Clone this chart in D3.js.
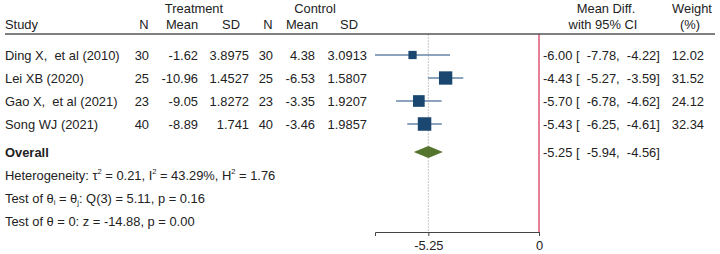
<!DOCTYPE html>
<html>
<head>
  <meta charset="utf-8">
  <script src="https://cdn.jsdelivr.net/npm/d3@7"></script>
  <style>
    body { margin: 0; background: #fff; }
    text { font-family: "Liberation Sans", Arial, sans-serif; font-size: 12.9px; fill: #222; white-space: pre; }
  </style>
</head>
<body>
  <svg width="720" height="254" id="mainsvg"></svg>
  <script>
    // data
    const studies = ['Ding X,  et al (2010)', 'Lei XB (2020)', 'Gao X,  et al (2021)', 'Song WJ (2021)'];
    const treatN = [30, 25, 23, 40];
    const treatMean = ['-1.62', '-10.96', '-9.05', '-8.89'];
    const treatSD = ['3.8975', '1.4527', '1.8272', '1.741'];
    const ctrlN = [30, 25, 23, 40];
    const ctrlMean = ['4.38', '-6.53', '-3.35', '-3.46'];
    const ctrlSD = ['3.0913', '1.5807', '1.9207', '1.9857'];
    const effect = [-6.00, -4.43, -5.70, -5.43];
    const ciLow = [-7.78, -5.27, -6.78, -6.25];
    const ciHigh = [-4.22, -3.59, -4.62, -4.61];
    const weight = [12.02, 31.52, 24.12, 32.34];
    const overall = { est: -5.25, lo: -5.94, hi: -4.56 };
    const statLines = [
      'Heterogeneity: τ<sup>2</sup> = 0.21, I<sup>2</sup> = 43.29%, H<sup>2</sup> = 1.76',
      'Test of θ<sub>i</sub> = θ<sub>j</sub>: Q(3) = 5.11, p = 0.16',
      'Test of θ = 0: z = -14.88, p = 0.00'
    ];
    const colHeads = ['N', 'Mean', 'SD', 'N', 'Mean', 'SD'];
    const xTicks = [-5.25, 0];

    const svg = d3.select('#mainsvg');
    const fmt = v => v.toFixed(2); // plain hyphen minus like the original
    const ciText = (e, lo, hi) => `${fmt(e)} [  ${fmt(lo)},  ${fmt(hi)}]`;

    // layout
    const plotLeft = 375, plotRight = 539;
    const headerY = 34, axisY = 232;
    const rowY0 = 55, rowStep = 23;
    const rowY = i => rowY0 + i * rowStep;
    const overallY = 152;
    const base = 4.6; // text baseline offset from row centre
    const colRight = [149, 198, 249, 273, 315, 367];   // value columns (right aligned)
    const colHeadX = [144, 182, 231, 268, 302, 349];   // header centres

    const xScale = d3.scaleLinear()
      .domain([d3.min(ciLow), 0])
      .range([plotLeft, plotRight]);
    const sizeScale = d3.scaleSqrt()
      .domain([0, d3.max(weight)])
      .range([0, 13.5]);

    // header
    svg.append('text').attr('x', 194).attr('y', 12.5).attr('text-anchor', 'middle').text('Treatment');
    svg.append('text').attr('x', 315).attr('y', 12.5).attr('text-anchor', 'middle').text('Control');
    svg.append('text').attr('x', 5).attr('y', 29).text('Study');
    colHeads.forEach((t, i) => {
      svg.append('text').attr('x', colHeadX[i]).attr('y', 29).attr('text-anchor', 'middle').text(t);
    });
    svg.append('text').attr('x', 606).attr('y', 12.5).attr('text-anchor', 'middle').text('Mean Diff.');
    svg.append('text').attr('x', 603).attr('y', 29).attr('text-anchor', 'middle').text('with 95% CI');
    svg.append('text').attr('x', 692).attr('y', 12.5).attr('text-anchor', 'middle').text('Weight');
    svg.append('text').attr('x', 690).attr('y', 29).attr('text-anchor', 'middle').text('(%)');

    // reference lines
    svg.append('line')
      .attr('x1', xScale(overall.est)).attr('x2', xScale(overall.est))
      .attr('y1', headerY).attr('y2', axisY)
      .attr('stroke', '#c8c8c8').attr('stroke-width', 1).attr('stroke-dasharray', '2,1');
    svg.append('line')
      .attr('x1', xScale(0)).attr('x2', xScale(0))
      .attr('y1', headerY).attr('y2', axisY)
      .attr('stroke', '#e0607e').attr('stroke-width', 1.6);

    svg.append('line')
      .attr('x1', 5).attr('x2', 715).attr('y1', headerY).attr('y2', headerY)
      .attr('stroke', '#555').attr('stroke-width', 1.5);

    // study rows
    const cols = [treatN, treatMean, treatSD, ctrlN, ctrlMean, ctrlSD];
    studies.forEach((s, i) => {
      const y = rowY(i);
      svg.append('text').attr('x', 5).attr('y', y + base).text(s);
      cols.forEach((c, j) => {
        svg.append('text').attr('x', colRight[j]).attr('y', y + base).attr('text-anchor', 'end').text(c[i]);
      });
      svg.append('line')
        .attr('x1', xScale(ciLow[i])).attr('x2', xScale(ciHigh[i]))
        .attr('y1', y).attr('y2', y)
        .attr('stroke', '#6585a6').attr('stroke-width', 1.3);
      const s2 = sizeScale(weight[i]);
      svg.append('rect')
        .attr('x', xScale(effect[i]) - s2 / 2).attr('y', y - s2 / 2)
        .attr('width', s2).attr('height', s2)
        .attr('fill', '#1a476f');
      svg.append('text').attr('x', 543).attr('y', y + base).text(ciText(effect[i], ciLow[i], ciHigh[i]));
      svg.append('text').attr('x', 704).attr('y', y + base).attr('text-anchor', 'end').text(fmt(weight[i]));
    });

    // overall
    svg.append('text').attr('x', 5).attr('y', overallY + base).attr('font-weight', 'bold').text('Overall');
    const dh = 6;
    svg.append('path')
      .attr('d', `M${xScale(overall.lo)},${overallY} L${xScale(overall.est)},${overallY - dh} L${xScale(overall.hi)},${overallY} L${xScale(overall.est)},${overallY + dh} Z`)
      .attr('fill', '#55752f');
    svg.append('text').attr('x', 543).attr('y', overallY + base).text(ciText(overall.est, overall.lo, overall.hi));

    // stats lines (simple sub/sup markup); each segment placed with absolute y
    statLines.forEach((line, k) => {
      const y0 = overallY + base + (k + 1) * 23;
      const t = svg.append('text').attr('x', 5).attr('y', y0);
      line.split(/(<sup>.*?<\/sup>|<sub>.*?<\/sub>)/).forEach(part => {
        if (!part) return;
        const m = part.match(/<(sup|sub)>(.*?)<\/\1>/);
        if (m) {
          t.append('tspan').attr('y', m[1] === 'sup' ? y0 - 6 : y0 + 2)
            .style('font-size', '7.5px').text(m[2]);
        } else {
          t.append('tspan').attr('y', y0).text(part);
        }
      });
    });

    // axis
    const xAxis = d3.axisBottom(xScale)
      .tickValues(xTicks)
      .tickFormat(d => d === 0 ? '0' : fmt(d))
      .tickSizeOuter(0)
      .tickSize(4);
    const ax = svg.append('g').attr('transform', `translate(0,${axisY})`).call(xAxis);
    ax.select('.domain').attr('stroke', '#444');
    ax.selectAll('.tick line').attr('stroke', '#444');
    ax.selectAll('.tick text').attr('font-size', null).attr('font-family', null).attr('dy', '0.85em');
  </script>
</body>
</html>
